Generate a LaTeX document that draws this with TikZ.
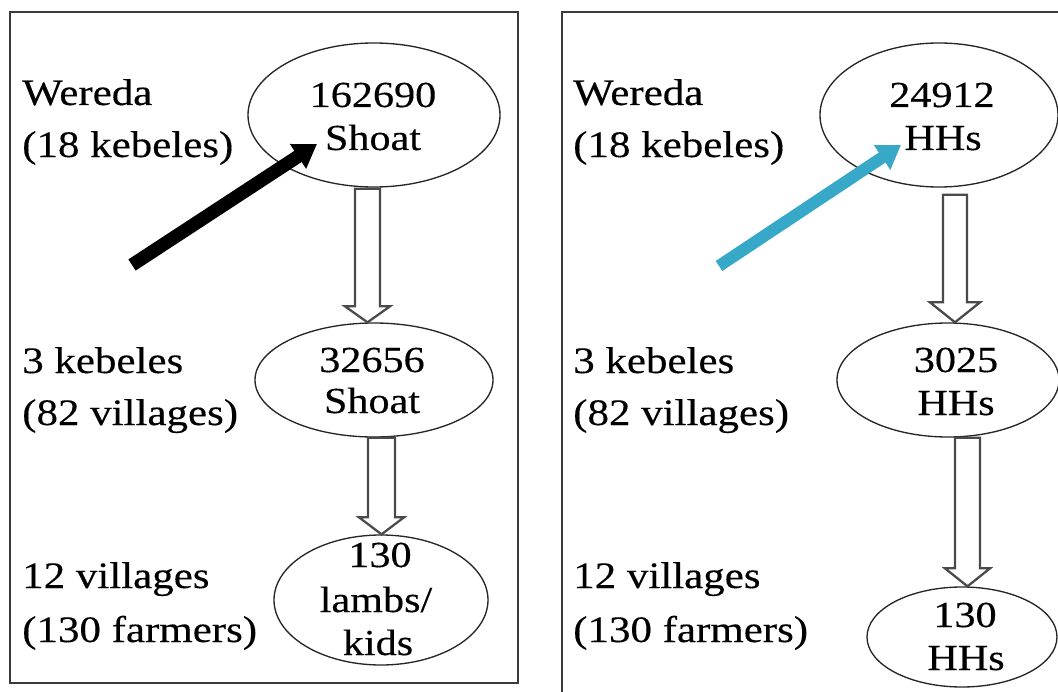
\documentclass[tikz,border=0pt]{standalone}
\usepackage{fontspec}
\setmainfont{Liberation Serif}[FakeStretch=1.15, FakeBold=0.3]
\usetikzlibrary{shapes.geometric,arrows.meta,calc}

\definecolor{framegray}{HTML}{3A3A3A}
\definecolor{shaftgray}{HTML}{4A4A4A}
\definecolor{tealblue}{HTML}{38A8C8}

\tikzset{
  panel/.style={draw=framegray, line width=1.8pt},
  oval/.style={ellipse, draw=black!85, line width=1pt, inner sep=0pt},
  lab/.style={anchor=base west, inner sep=0pt, font=\fontsize{28}{33}\selectfont},
  num/.style={anchor=base, inner sep=0pt, font=\fontsize{27.5}{33}\selectfont},
  hollow/.style={draw=shaftgray, line width=1.7pt, fill=white, line join=miter},
  fatarrow/.style={line width=10pt, -{Triangle[length=17pt,width=21pt]}},
}

% open block arrow from a start coordinate down to the top of a node
\newcommand\hollowdown[5]{% #1 start, #2 target node, #3 half shaft, #4 half head, #5 head length
  \coordinate (#1tip) at (#1 |- #2.north);
  \draw[hollow] ($(#1)+(-#3,0)$) -- ($(#1tip)+(-#3,-#5)$) -- ($(#1tip)+(-#4,-#5)$)
    -- (#1tip) -- ($(#1tip)+(#4,-#5)$) -- ($(#1tip)+(#3,-#5)$) -- ($(#1)+(#3,0)$) -- cycle;}

\begin{document}
\begin{tikzpicture}[x=0.75pt, y=-0.75pt]
\clip (0,0) rectangle (1058,692);
\fill[white] (0,0) rectangle (1058,692);

% panels
\draw[panel] (10,12) rectangle (518,683);
\draw[panel] (562,700) -- (562,12) -- (1070,12);

% ---------- left panel ----------
\node[oval, minimum width=189pt, minimum height=108pt] (L1) at (374,115) {};
\node[oval, minimum width=178.5pt, minimum height=85.5pt] (L2) at (374,380) {};
\node[oval, minimum width=160.5pt, minimum height=97.5pt] (L3) at (381,600) {};

\node[num] (l1a) at (373,107) {162690};
\node[num] (l1b) at (373,150) {Shoat};
\node[num] (l2a) at (372,372) {32656};
\node[num] (l2b) at (372,413) {Shoat};
\node[num] (l3a) at (380,567) {130};
\node[num] (l3b) at (376,612) {lambs/};
\node[num] (l3c) at (378,655) {kids};

\node[lab] (lw1) at (22,105) {Wereda};
\node[lab] (lw2) at (22,157) {(18 kebeles)};
\node[lab] (lk1) at (22,373) {3 kebeles};
\node[lab] (lk2) at (22,425) {(82 villages)};
\node[lab] (lv1) at (22,588) {12 villages};
\node[lab] (lv2) at (22,642) {(130 farmers)};

\path (L1.south) ++(-6.5,1) coordinate (a1);
\hollowdown{a1}{L2}{12.5}{22.5}{16}
\path (L2.south) ++(7.5,0) coordinate (a2);
\hollowdown{a2}{L3}{13.5}{22.5}{17}

\coordinate (bk) at (132,265);
\draw[fatarrow, black] (bk) -- ($(L1.center)+(-57,29)$);

% ---------- right panel ----------
\node[oval, minimum width=178.5pt, minimum height=108pt] (R1) at (939,115) {};
\node[oval, minimum width=166.5pt, minimum height=85.5pt] (R2) at (948,380) {};
\node[oval, minimum width=142.5pt, minimum height=75pt] (R3) at (962,637) {};

\node[num] (r1a) at (942,107) {24912};
\node[num] (r1b) at (943,150) {HHs};
\node[num] (r2a) at (956,372) {3025};
\node[num] (r2b) at (956,415) {HHs};
\node[num] (r3a) at (965,627) {130};
\node[num] (r3b) at (966,670) {HHs};

\node[lab] (rw1) at (573,105) {Wereda};
\node[lab] (rw2) at (573,157) {(18 kebeles)};
\node[lab] (rk1) at (573,373) {3 kebeles};
\node[lab] (rk2) at (573,425) {(82 villages)};
\node[lab] (rv1) at (573,588) {12 villages};
\node[lab] (rv2) at (573,642) {(130 farmers)};

\path (R1.south) ++(16,7) coordinate (a3);
\hollowdown{a3}{R2}{12}{25}{20}
\path (R2.south) ++(19.5,0) coordinate (a4);
\hollowdown{a4}{R3}{12.5}{22.5}{18}

\coordinate (bl) at (719,266);
\draw[fatarrow, tealblue, line width=9pt] (bl) -- ($(R1.center)+(-38,30)$);
\end{tikzpicture}
\end{document}
